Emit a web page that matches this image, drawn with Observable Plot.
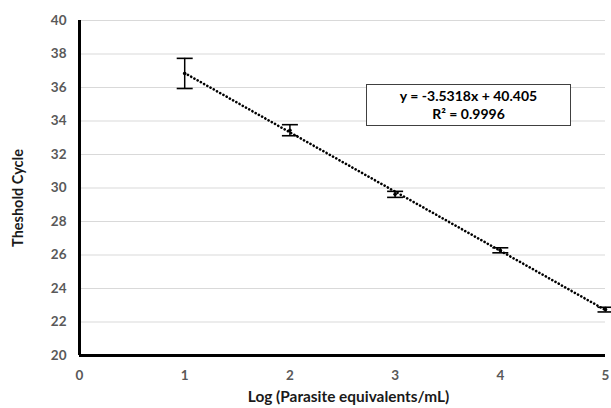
<!DOCTYPE html>
<html>
<head>
<meta charset="utf-8">
<script src="https://cdn.jsdelivr.net/npm/d3@7"></script>
<script src="https://cdn.jsdelivr.net/npm/@observablehq/plot@0.6"></script>
<style>
  html, body { margin: 0; padding: 0; background: #fff; }
  #wrap { position: relative; width: 611px; height: 408px; font-family: Lato, "Open Sans", sans-serif; }
  #eq { position: absolute; left: 366px; top: 84px; width: 203px; height: 38px;
        border: 1.3px solid #404040; background: #fff; text-align: center;
        font-weight: bold; font-size: 14px; color: #000; line-height: 18px; padding-top: 2px; box-sizing: content-box; }
</style>
</head>
<body>
<div id="wrap"></div>
<script>
const logConc = [1, 2, 3, 4, 5];
const ctMean = [36.84, 33.45, 29.62, 26.28, 22.74];
const ctErr = [0.9, 0.33, 0.18, 0.15, 0.14];
const yTicks = [20, 22, 24, 26, 28, 30, 32, 34, 36, 38, 40];
const xTicks = [0, 1, 2, 3, 4, 5];
const eqText = "y = -3.5318x + 40.405";
const r2Text = "R² = 0.9996";

const data = logConc.map((x, i) => ({x, y: ctMean[i], lo: ctMean[i] - ctErr[i], hi: ctMean[i] + ctErr[i]}));

const cap = {draw(ctx) { ctx.moveTo(-8, 0); ctx.lineTo(8, 0); }};

const chart = Plot.plot({
  width: 611,
  height: 408,
  marginLeft: 79,
  marginRight: 6,
  marginTop: 20,
  marginBottom: 53,
  style: {fontFamily: "Lato, 'Open Sans', sans-serif", fontWeight: "bold", fontSize: "13px", background: "#fff"},
  x: {domain: [0, 5], ticks: xTicks, label: null},
  y: {domain: [20, 40], ticks: yTicks, label: null},
  marks: [
    Plot.gridY(yTicks.filter(t => t > 20), {stroke: "#d9d9d9", strokeOpacity: 1, strokeWidth: 1.2}),
    Plot.axisX(xTicks, {tickSize: 0, tickPadding: 15, fill: "#595959", fontSize: 13.5, label: null}),
    Plot.axisY(yTicks, {tickSize: 0, tickPadding: 13, fill: "#595959", fontSize: 13.5, label: null}),
    Plot.linearRegressionY(data, {x: "x", y: "y", ci: 0, stroke: "#000", strokeWidth: 2.6,
      strokeDasharray: "0.1,3.6", strokeLinecap: "round"}),
    Plot.ruleX(data, {x: "x", y1: "lo", y2: "hi", stroke: "#000", strokeWidth: 1.5}),
    Plot.dot(data, {x: "x", y: "lo", symbol: cap, stroke: "#000", strokeWidth: 1.6, r: 5}),
    Plot.dot(data, {x: "x", y: "hi", symbol: cap, stroke: "#000", strokeWidth: 1.6, r: 5}),
    Plot.dot(data, {x: "x", y: "y", r: 1.8, fill: "#000", stroke: null}),
    Plot.ruleY([20], {stroke: "#000", strokeWidth: 3}),
    Plot.ruleX([0], {stroke: "#000", strokeWidth: 3}),
    Plot.text(["Log (Parasite equivalents/mL)"], {frameAnchor: "bottom", dx: 6, dy: 46, fontSize: 15.4, fill: "#1a1a1a", fontWeight: "bold"}),
    Plot.text(["Theshold Cycle"], {frameAnchor: "left", textAnchor: "middle", dx: -61, dy: 10, rotate: -90, fontSize: 14.5, fill: "#1a1a1a", fontWeight: "bold"})
  ]
});

const wrap = document.getElementById("wrap");
wrap.appendChild(chart);
const eq = document.createElement("div");
eq.id = "eq";
eq.innerHTML = eqText + "<br>" + r2Text;
wrap.appendChild(eq);
</script>
</body>
</html>
